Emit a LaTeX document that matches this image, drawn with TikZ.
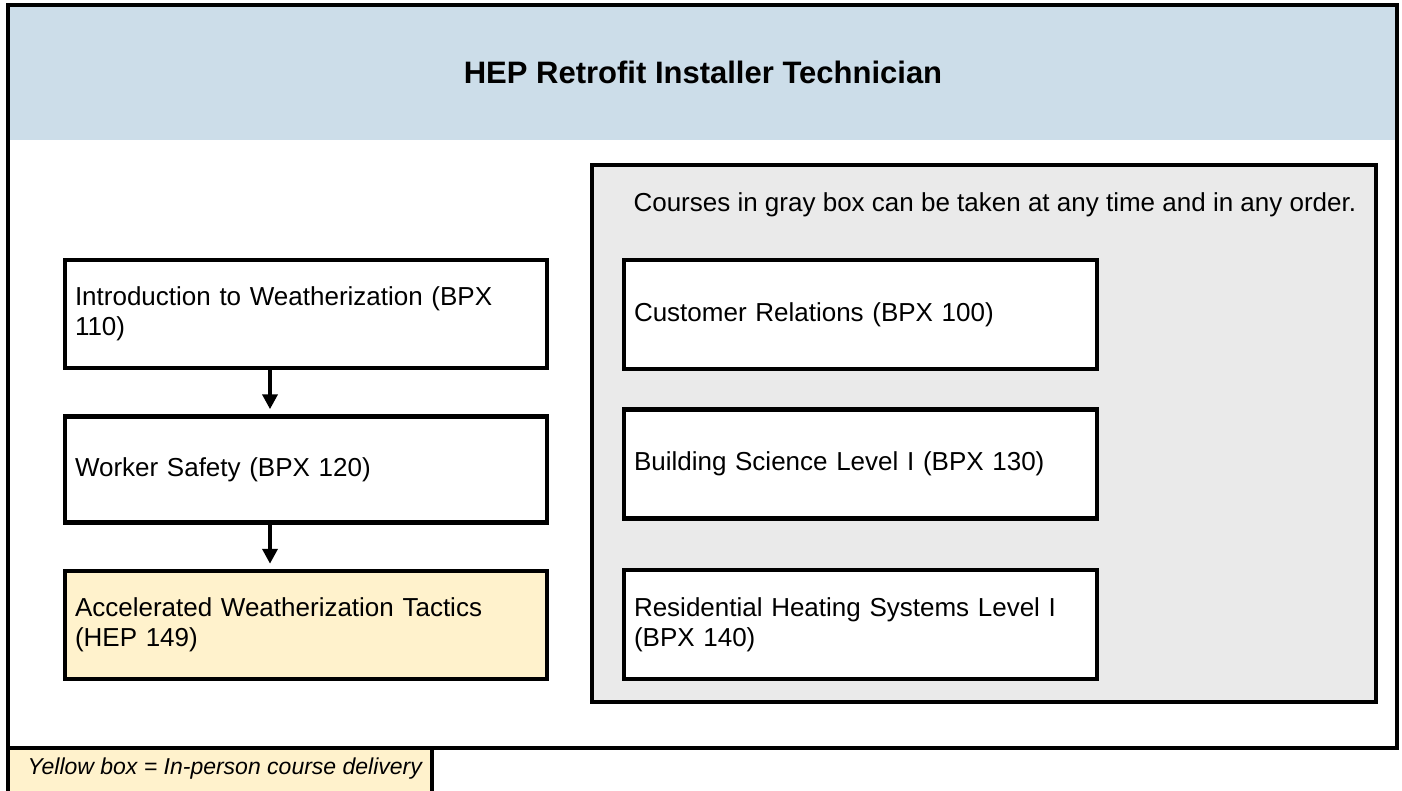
\documentclass[tikz,border=0pt]{standalone}
\usepackage{fontspec}
\setmainfont{Liberation Sans}
\usepackage{tikz}
\usetikzlibrary{positioning, arrows.meta, calc}
\definecolor{bandblue}{HTML}{CCDDE9}
\definecolor{boxgray}{HTML}{EAEAEA}
\definecolor{boxyellow}{HTML}{FFF2CC}
\tikzset{
	>={Triangle[width=15pt,length=15pt]},
	node distance=44pt,
	course/.style={draw, line width=4.5pt, fill=white, minimum width=482pt, minimum height=108pt, text width=462pt, inner xsep=10pt, align=left, font=\fontsize{26}{30}\selectfont},
	inperson/.style={course, fill=boxyellow},
	anytime/.style={course, minimum width=473pt, text width=453pt, minimum height=109pt},
	flow/.style={->, line width=4pt, shorten >=5pt},
}

\begin{document}
\begin{tikzpicture}[x=1pt, y=-1pt]
			\useasboundingbox (0,0) rectangle (1402,791);
			\draw[line width=4.5pt, fill=boxyellow] (8,748) rectangle (432,800);
			\node[anchor=west, font=\itshape\fontsize{23}{27}\selectfont] (LEGEND) at (24,769) {Yellow box = In-person course delivery};
			\fill[bandblue] (8,5) rectangle (1397,140);
			\draw[line width=4.5pt] (8,5) rectangle (1397,748);
			\node[anchor=base, font=\bfseries\fontsize{31}{36}\selectfont] (TITLE) at (703,84) {HEP Retrofit Installer Technician};
			\draw[line width=4.5pt, fill=boxgray] (592,165) rectangle (1376,702);
			\node[anchor=west, font=\fontsize{26}{30}\selectfont] (ANYORDER) at (630,205) {Courses in gray box can be taken at any time and in any order.};
			
			\node[course] (INTRO) at (306,314) {Introduction to Weatherization (BPX\\110)};
			\node[course, minimum height=106pt, below=of INTRO] (SAFETY) {Worker Safety (BPX 120)};
			\node[inperson, below=of SAFETY] (TACTICS) {Accelerated Weatherization Tactics\\(HEP 149)};
			\node[anytime] (CUSTOMER) at (860.5,314.5) {Customer Relations (BPX 100)};
			\node[anytime, below=36pt of CUSTOMER] (SCIENCE) {Building Science Level I (BPX 130)};
			\node[anytime, below=47pt of SCIENCE] (HEATING) {Residential Heating Systems Level I\\(BPX 140)};
			
			\draw[flow] ([xshift=-36pt]INTRO.south) -- ([xshift=-36pt]SAFETY.north);
			\draw[flow] ([xshift=-36pt]SAFETY.south) -- ([xshift=-36pt]TACTICS.north);
		\end{tikzpicture}
\end{document}
